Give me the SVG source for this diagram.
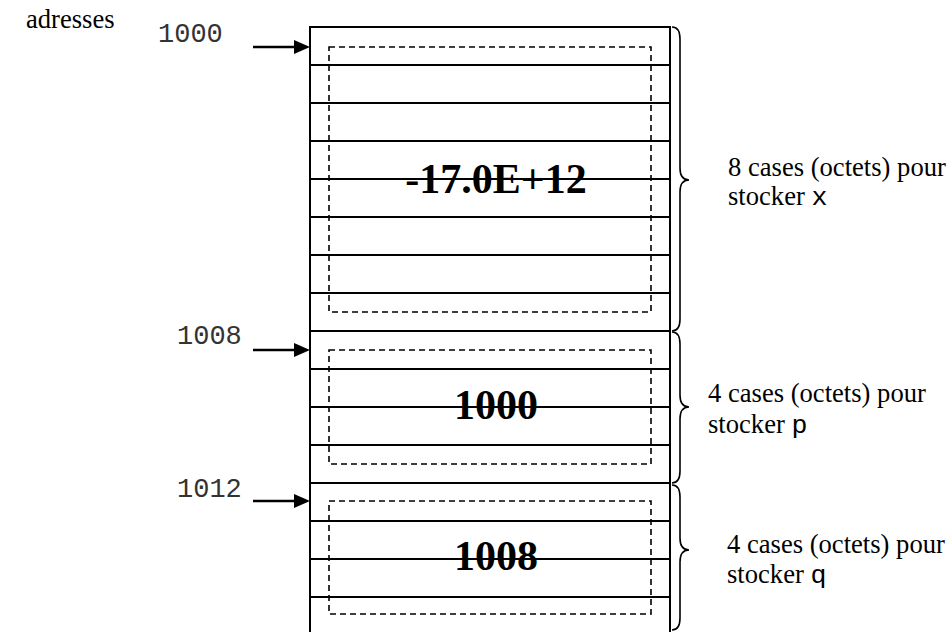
<svg xmlns="http://www.w3.org/2000/svg" width="949" height="632" viewBox="0 0 949 632">
<style>
.cell{fill:none;stroke:#000;stroke-width:2}
.dash{fill:none;stroke:#000;stroke-width:1.6;stroke-dasharray:6 4}
.brace{fill:none;stroke:#000;stroke-width:1.6}
.shaft{fill:none;stroke:#000;stroke-width:2.6}
.head{fill:#000}
.mono{font-family:"Liberation Mono","Courier New",monospace;font-size:27px;fill:#333}
.serif{font-family:"Liberation Serif","Times New Roman",serif;font-size:26.6px;fill:#000}
.big{font-family:"Liberation Serif","Times New Roman",serif;font-weight:bold;font-size:42px;fill:#000;text-anchor:middle}
.code{font-family:"Liberation Mono","Courier New",monospace}
</style>
<defs>
<path id="ah" class="head" d="M-16,-7 L0,0 L-16,7 Z"/>
</defs>
<rect width="949" height="632" fill="#fff"/>
<text class="serif" x="26" y="28">adresses</text>
<g id="block-x">
<path class="cell" d="M310,27 H670 M310,65 H670 M310,103 H670 M310,141 H670 M310,179 H670 M310,217 H670 M310,255 H670 M310,293 H670 M310,331 H670"/>
<rect class="dash" x="329" y="47" width="322" height="265"/>
<text class="big" x="496" y="193">-17.0E+12</text>
</g>
<g id="block-p">
<path class="cell" d="M310,369 H670 M310,407 H670 M310,445 H670 M310,483 H670"/>
<rect class="dash" x="329" y="350" width="322" height="114"/>
<text class="big" x="496" y="419">1000</text>
</g>
<g id="block-q">
<path class="cell" d="M310,521 H670 M310,559 H670 M310,597 H670"/>
<rect class="dash" x="329" y="501" width="322" height="113"/>
<text class="big" x="496" y="570">1008</text>
</g>
<g id="column">
<path class="cell" d="M310,26 V640 M670,26 V640"/>
</g>
<g id="addr-1000"><text class="mono" x="158" y="42">1000</text></g>
<g id="addr-1008"><text class="mono" x="177" y="344">1008</text></g>
<g id="addr-1012"><text class="mono" x="177" y="497">1012</text></g>
<g id="brace-x">
<path class="brace" d="M672,27 Q680,27 680,39 L680,168 Q680,180 689,180 Q680,180 680,192 L680,319 Q680,331 672,331"/>
<text class="serif" x="728" y="176">8 cases (octets) pour</text>
<text class="serif" x="728" y="205">stocker <tspan class="code">x</tspan></text>
</g>
<g id="brace-p">
<path class="brace" d="M672,332 Q680,332 680,344 L680,395 Q680,407 689,407 Q680,407 680,419 L680,471 Q680,483 672,483"/>
<text class="serif" x="708" y="402">4 cases (octets) pour</text>
<text class="serif" x="708" y="433">stocker <tspan class="code">p</tspan></text>
</g>
<g id="brace-q">
<path class="brace" d="M672,485 Q680,485 680,497 L680,538 Q680,550 689,550 Q680,550 680,562 L680,618 Q680,630 672,630"/>
<text class="serif" x="727" y="553">4 cases (octets) pour</text>
<text class="serif" x="727" y="583">stocker <tspan class="code">q</tspan></text>
</g>
<g id="connectors">
<line class="shaft" x1="253" y1="47" x2="296" y2="47"/>
<use href="#ah" x="310" y="47"/>
<line class="shaft" x1="253" y1="350" x2="296" y2="350"/>
<use href="#ah" x="310" y="350"/>
<line class="shaft" x1="253" y1="501" x2="296" y2="501"/>
<use href="#ah" x="310" y="501"/>
</g>
</svg>
